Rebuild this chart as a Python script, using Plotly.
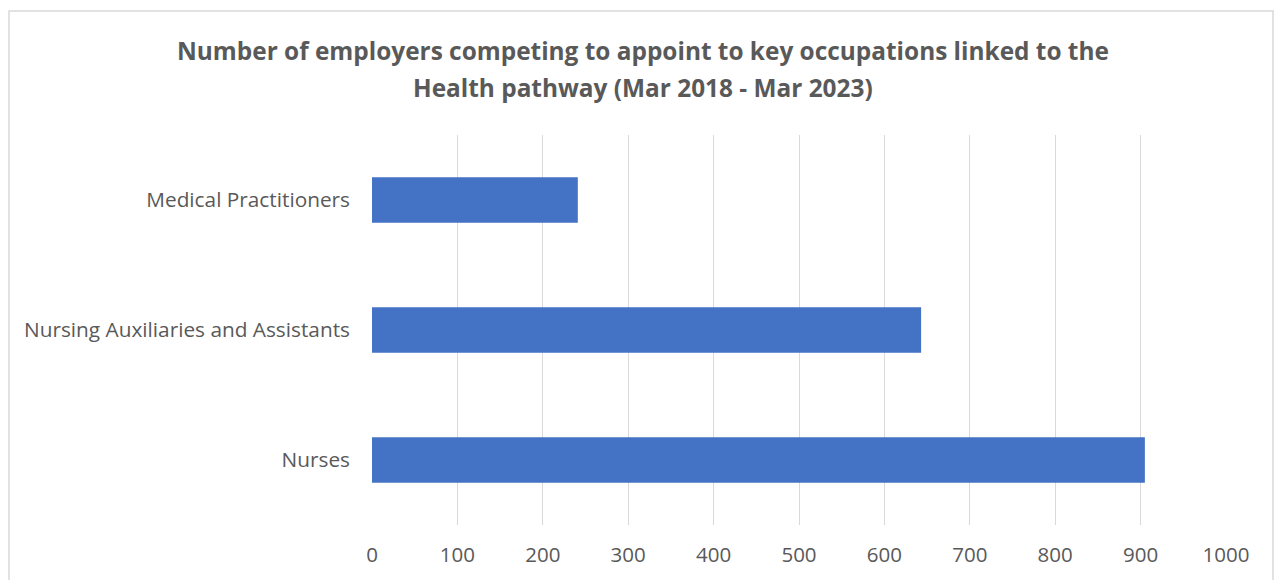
import plotly.graph_objects as go

categories = ["Nurses", "Nursing Auxiliaries and Assistants", "Medical Practitioners"]
values = [905, 643, 241]
x_ticks = [0, 100, 200, 300, 400, 500, 600, 700, 800, 900, 1000]

title_lines = ["Number of employers competing to appoint to key occupations linked to the",
               "Health pathway (Mar 2018 - Mar 2023)"]

OFF = 8  # browser body margin
W, H = 1282 - 2 * OFF, 580 - OFF
L, T = 372 - OFF, 135 - OFF
pw, ph = 854, 390
R = W - L - pw
B = H - T - ph

fig = go.Figure(go.Bar(
    y=categories, x=values, orientation="h",
    marker=dict(color="#4472c4", line=dict(width=0)),
    width=0.35,
))

fig.update_layout(
    width=W, height=H,
    margin=dict(l=L, r=R, t=T, b=B, pad=0),
    paper_bgcolor="white", plot_bgcolor="white",
    font=dict(family="Open Sans, Liberation Sans, sans-serif", color="#595959"),
    showlegend=False,
    xaxis=dict(range=[0, 1000], tickvals=x_ticks, showgrid=True, gridcolor="#d9d9d9",
               gridwidth=1, zeroline=False, showline=False, ticks="",
               tickfont=dict(size=20.5, color="#595959"), ticklabelstandoff=15,
               automargin=False),
    yaxis=dict(showgrid=False, zeroline=False, showline=False, ticks="",
               tickfont=dict(size=20.8, color="#595959"), ticklabelstandoff=21,
               range=[-0.5, 2.5], automargin=False),
)

cx = (643 - OFF - L) / pw
for line, ypix in zip(title_lines, [50, 87]):
    fig.add_annotation(text=f"<b>{line}</b>", xref="paper", yref="paper",
                       x=cx, y=(H - B - (ypix - OFF)) / ph, xanchor="center", yanchor="middle",
                       showarrow=False, font=dict(size=24.4, color="#595959"))

x0 = (1 - L) / pw
x1 = (W - 1 - L) / pw
y1 = (H - B - (11 - OFF)) / ph
y0 = (H - B - 600) / ph
fig.add_shape(type="rect", xref="paper", yref="paper", x0=x0, x1=x1, y0=y0, y1=y1,
              line=dict(color="#d9d9d9", width=1.5), fillcolor="rgba(0,0,0,0)", layer="below")

fig.write_html("out.html")
